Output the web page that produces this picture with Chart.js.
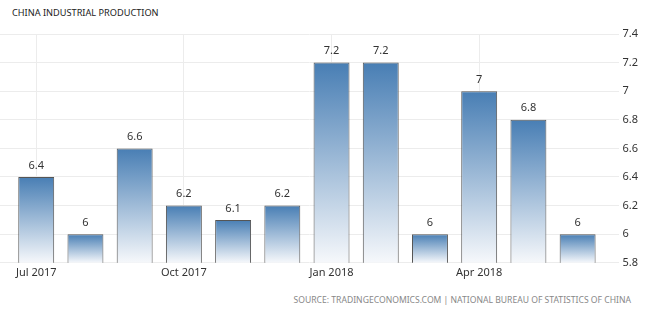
<!DOCTYPE html>
<html>
<head>
<meta charset="utf-8">
<script src="https://cdn.jsdelivr.net/npm/chart.js@4"></script>
<style>
  body { margin: 0; background: #fff; }
  #wrap { position: relative; width: 650px; height: 318px; overflow: hidden; }
  #title { position: absolute; left: 12px; top: 6px; font: 9.2px "Noto Sans", sans-serif; color: #222; }
  #source { position: absolute; right: 19px; top: 294px; font: 8.6px "Noto Sans", sans-serif; color: #888; letter-spacing: 0; }
  #box { position: absolute; left: 0; top: 0; width: 650px; height: 290px; }
</style>
</head>
<body>
<div id="wrap">
  <div id="title">CHINA INDUSTRIAL PRODUCTION</div>
  <div id="box"><canvas id="ipChart"></canvas></div>
  <div id="source">SOURCE: TRADINGECONOMICS.COM | NATIONAL BUREAU OF STATISTICS OF CHINA</div>
</div>
<script>
// Data
const months = ['Jul 2017','Aug 2017','Sep 2017','Oct 2017','Nov 2017','Dec 2017',
                'Jan 2018','Feb 2018','Mar 2018','Apr 2018','May 2018','Jun 2018'];
const growth = [6.4, 6, 6.6, 6.2, 6.1, 6.2, 7.2, 7.2, 6, 7, 6.8, 6];
const labelledMonths = [0, 3, 6, 9];
const yTicks = [5.8, 6, 6.2, 6.4, 6.6, 6.8, 7, 7.2, 7.4];

const tickFont = { family: 'Noto Sans', size: 11 };

// Blue-to-white fill per bar
function barFill(ctx) {
    const chart = ctx.chart;
    const area = chart.chartArea;
    if (!area || ctx.type !== 'data') return '#487eb4';
    const top = chart.scales.y.getPixelForValue(ctx.raw.y);
    const g = chart.ctx.createLinearGradient(0, top, 0, area.bottom);
    g.addColorStop(0, '#487eb4');
    g.addColorStop(1, '#f6f8fb');
    return g;
}

// Value labels above bars
const valueLabels = {
    id: 'valueLabels',
    afterDatasetsDraw(chart) {
        const c = chart.ctx;
        const meta = chart.getDatasetMeta(0);
        c.save();
        c.font = '11px "Noto Sans"';
        c.fillStyle = '#333';
        c.textAlign = 'center';
        c.textBaseline = 'bottom';
        meta.data.forEach((bar, i) => {
            c.fillText(String(growth[i]), bar.x, bar.y - 6);
        });
        c.restore();
    }
};

const ctx = document.getElementById('ipChart').getContext('2d');
new Chart(ctx, {
    type: 'bar',
    data: {
        datasets: [{
            data: growth.map((v, i) => ({ x: i, y: v })),
            backgroundColor: barFill,
            borderColor: '#555',
            borderWidth: 1,
            borderSkipped: false,
            barPercentage: 0.73,
            categoryPercentage: 1
        }]
    },
    options: {
        responsive: true,
        maintainAspectRatio: false,
        animation: false,
        layout: { padding: { top: 34, right: 9, bottom: 8, left: 0 } },
        plugins: { legend: { display: false }, tooltip: { enabled: false } },
        scales: {
            x: {
                type: 'linear',
                offset: false,
                min: -0.736,
                max: 11.85,
                afterBuildTicks: (axis) => { axis.ticks = labelledMonths.map(v => ({ value: v })); },
                ticks: {
                    callback: (v) => months[v],
                    color: '#333',
                    font: tickFont,
                    padding: 3,
                    maxRotation: 0,
                    autoSkip: false
                },
                grid: { color: '#ececec', drawTicks: false, offset: false },
                border: { display: false }
            },
            y: {
                position: 'right',
                min: 5.8,
                max: 7.4,
                afterBuildTicks: (axis) => { axis.ticks = yTicks.map(v => ({ value: v })); },
                ticks: {
                    callback: (v) => String(Math.round(v * 10) / 10),
                    color: '#333',
                    font: tickFont,
                    padding: 3
                },
                grid: { color: '#ececec', drawTicks: false },
                border: { display: false }
            }
        }
    },
    plugins: [valueLabels]
});
</script>
</body>
</html>
